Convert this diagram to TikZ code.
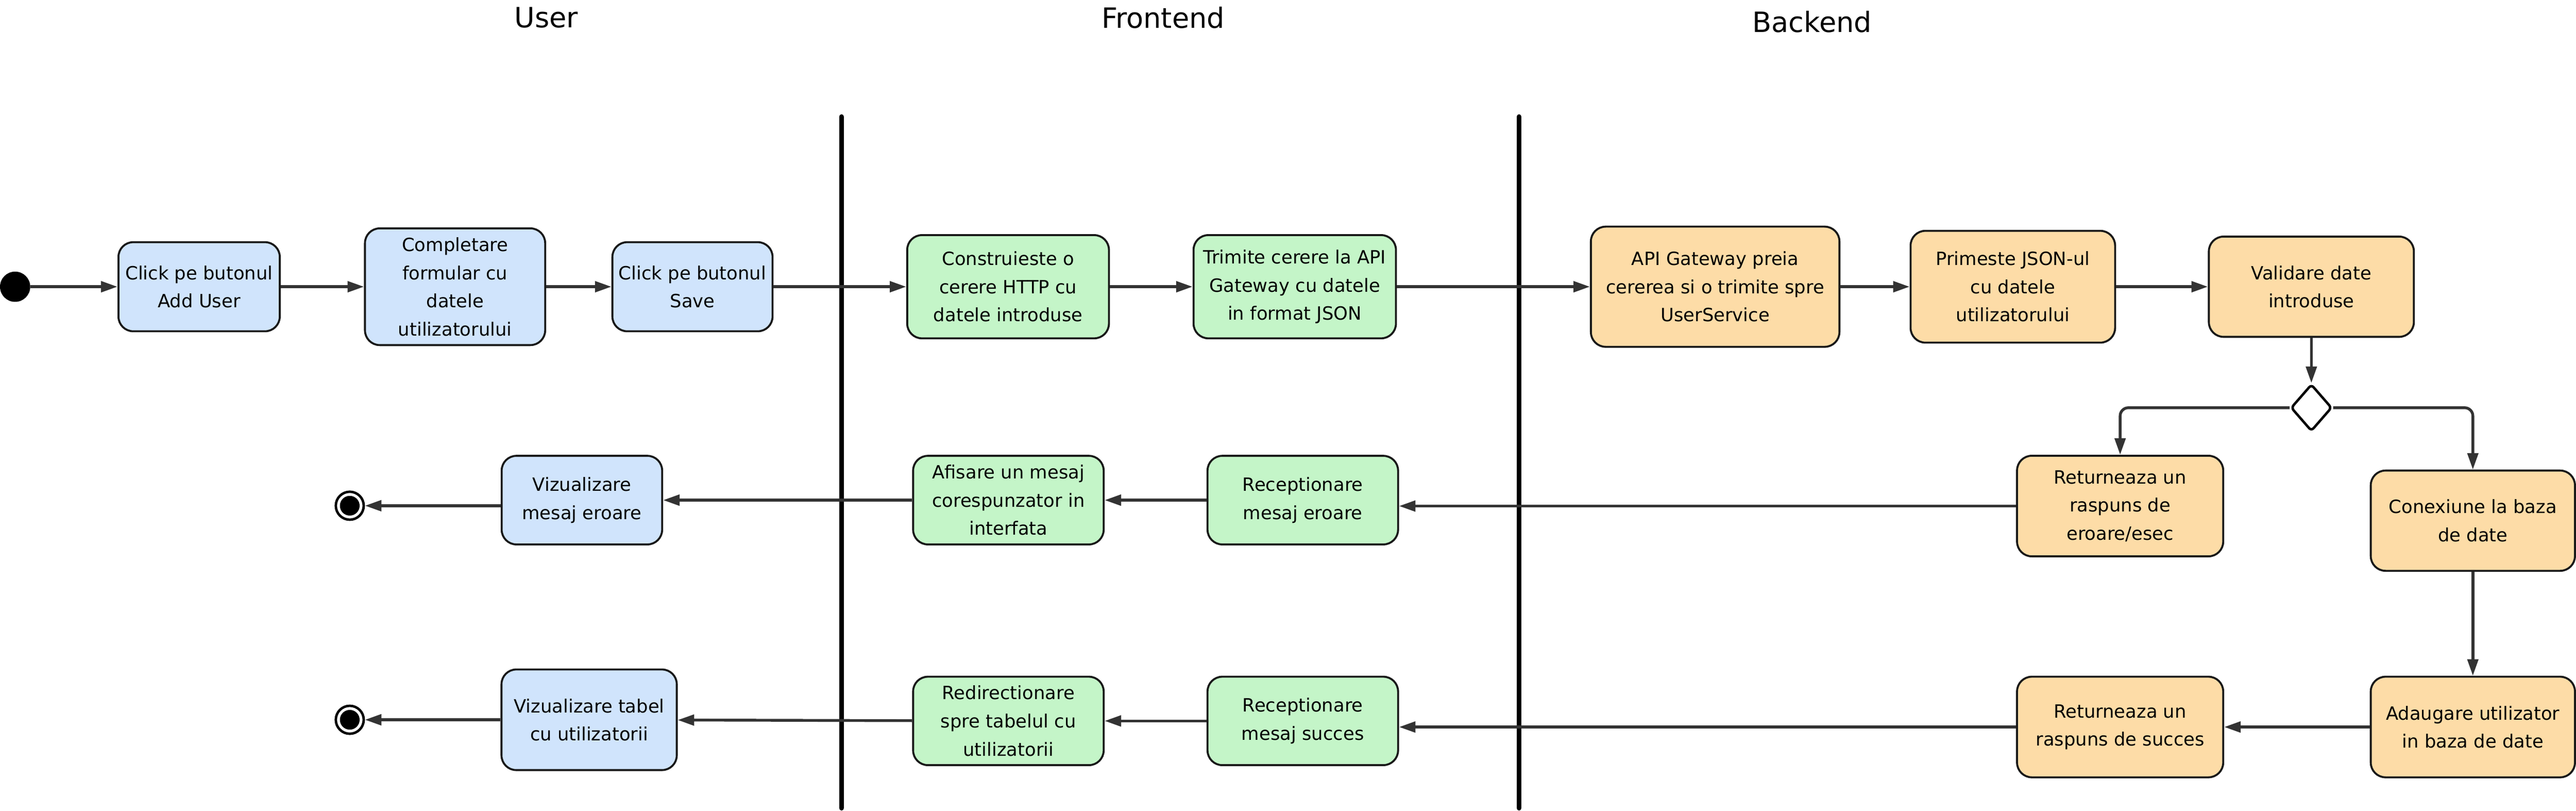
\documentclass[tikz,border=0pt]{standalone}
\usepackage{fontspec}
\setmainfont{DejaVu Sans}
\usetikzlibrary{arrows.meta,shapes.geometric}
\definecolor{userblue}{HTML}{D0E4FC}
\definecolor{frontgreen}{HTML}{C4F5C8}
\definecolor{backorange}{HTML}{FDDCA7}
\definecolor{flowgrey}{HTML}{333333}
\begin{document}
\begin{tikzpicture}[x=1pt,y=-1pt,
	act/.style={draw=black!90, line width=1.2pt, rounded corners=9pt, align=center, inner sep=0pt, font=\fontsize{11.1}{17.1}\selectfont},
	dims/.style 2 args={minimum width=#1pt, minimum height=#2pt},
	useract/.style={act, fill=userblue},
	frontact/.style={act, fill=frontgreen},
	backact/.style={act, fill=backorange},
	flow/.style={draw=flowgrey, line width=1.7pt, -{Triangle[length=10pt,width=6.5pt]}},
	lane/.style={line width=3pt, line cap=round},
	header/.style={font=\fontsize{17}{20}\selectfont, inner sep=0pt},
	startnode/.style={circle, fill=black, minimum size=18.4pt, inner sep=0pt},
	endnode/.style={circle, draw=black, line width=1.5pt, fill=white, minimum size=17pt, inner sep=0pt,
		path picture={\fill[black] (path picture bounding box.center) circle (6pt);}},
	decision/.style={diamond, draw=black, line width=1.5pt, fill=white, rounded corners=2pt, inner sep=0pt}]
	\useasboundingbox (0,0) rectangle (1568,493.13);
	
	\node[header] (hUser) at (332.5,10.8) {User};
	\node[header] (hFront) at (708,10.8) {Frontend};
	\node[header] (hBack) at (1103,13.3) {Backend};
	
	\draw[lane] (512.2,71) -- (512.2,491.5);
	\draw[lane] (924.6,71) -- (924.6,491.5);
	
	\node[startnode] (start) at (9.2,174.4) {};
	\node[useract, dims={98.2}{54.2}] (A) at (121.2,174.4) {Click pe butonul\\Add User};
	\node[useract, dims={109.7}{71}] (B) at (277,174.4) {Completare\\formular cu\\datele\\utilizatorului};
	\node[useract, dims={97.5}{54.2}] (C) at (421.5,174.4) {Click pe butonul\\Save};
	\node[frontact, dims={122.8}{62.8}] (D) at (613.6,174.4) {Construieste o\\cerere HTTP cu\\datele introduse};
	\node[frontact, dims={123.2}{62.8}] (E) at (788.1,174.4) {Trimite cerere la API\\Gateway cu datele\\in format JSON};
	\node[backact, dims={151.3}{73.1}] (F) at (1044,174.4) {API Gateway preia\\cererea si o trimite spre\\UserService};
	\node[backact, dims={124.5}{68}] (G) at (1225.2,174.4) {Primeste JSON-ul\\cu datele\\utilizatorului};
	\node[backact, dims={124.8}{61}] (H) at (1406.9,174.4) {Validare date\\introduse};
	\node[decision, dims={25}{28.6}] (dec) at (1406.9,248) {};
	
	\node[backact, dims={125.5}{61.2}] (I) at (1290.5,307.8) {Returneaza un\\raspuns de\\eroare/esec};
	\node[backact, dims={124.3}{61}] (J) at (1505.2,316.7) {Conexiune la baza\\de date};
	\node[backact, dims={124.3}{61.2}] (K) at (1505.2,442.2) {Adaugare utilizator\\in baza de date};
	\node[backact, dims={125.5}{61.2}] (L) at (1290.5,442.2) {Returneaza un\\raspuns de succes};
	
	\node[frontact, dims={116}{53.9}] (P) at (793,304.2) {Receptionare\\mesaj eroare};
	\node[frontact, dims={116}{53.9}] (Q) at (613.8,304.2) {Afisare un mesaj\\corespunzator in\\interfata};
	\node[useract, dims={97.7}{53.9}] (R) at (354.2,304.2) {Vizualizare\\mesaj eroare};
	\node[endnode] (end1) at (212.9,307.6) {};
	
	\node[frontact, dims={116}{53.8}] (M) at (793,438.5) {Receptionare\\mesaj succes};
	\node[frontact, dims={116}{53.8}] (N) at (613.8,438.5) {Redirectionare\\spre tabelul cu\\utilizatorii};
	\node[useract, dims={106.7}{61.2}] (O) at (358.6,437.8) {Vizualizare tabel\\cu utilizatorii};
	\node[endnode] (end2) at (212.9,437.8) {};
	
	\draw[flow] (start) -- (A);
	\draw[flow] (A) -- (B);
	\draw[flow] (B) -- (C);
	\draw[flow] (C) -- (D);
	\draw[flow] (D) -- (E);
	\draw[flow] (E) -- (F);
	\draw[flow] (F) -- (G);
	\draw[flow] (G) -- (H);
	\draw[flow] (H) -- (dec);
	\draw[flow, rounded corners=5pt] (dec.west) -| (I.north);
	\draw[flow, rounded corners=5pt] (dec.east) -| (J.north);
	\draw[flow] (J) -- (K);
	\draw[flow] (K) -- (L);
	\draw[flow] (L.west) -- (L.west -| M.east);
	\draw[flow] (M) -- (N);
	\draw[flow] (N) -- (O);
	\draw[flow] (O) -- (end2);
	\draw[flow] (I.west) -- (I.west -| P.east);
	\draw[flow] (P) -- (Q);
	\draw[flow] (Q) -- (R);
	\draw[flow] (R.west |- end1) -- (end1);
	
\end{tikzpicture}
\end{document}
